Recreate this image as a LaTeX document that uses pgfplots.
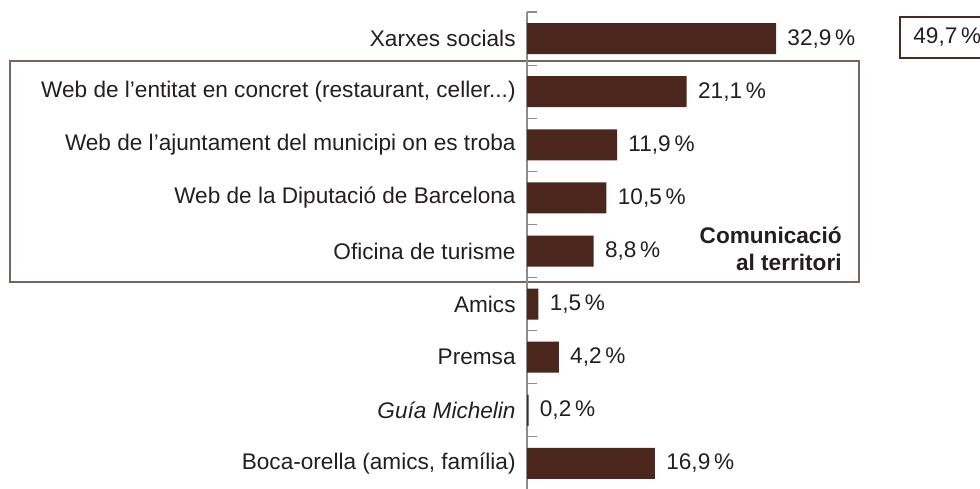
\documentclass[border=0pt]{standalone}
\usepackage{fontspec}
\setmainfont{Liberation Sans}
\usepackage{pgfplots}
\pgfplotsset{compat=1.18}
\definecolor{barc}{HTML}{4A261C}
\definecolor{boxc}{HTML}{7A635B}
\definecolor{box2}{HTML}{4A2A20}
\definecolor{axc}{HTML}{8C8C8C}
\definecolor{txt}{HTML}{231F20}
\def\tdots{...}
\begin{document}
\begin{tikzpicture}[font=\fontsize{11.3}{13.5}\selectfont, color=txt]
\useasboundingbox (0,0) rectangle (490pt,244pt);
\draw[boxc, line width=0.75pt] (5pt,103pt) rectangle (429.5pt,213.5pt);
\begin{axis}[
  at={(263.5pt,238pt)}, anchor=north west,
  scale only axis, width=226.5pt, height=239pt,
  xbar, bar width=15.5pt,
  xmin=0, xmax=59.84, ymin=-0.5, ymax=8.5, y dir=reverse,
  axis y line*=left, hide x axis,
  ytick={0,1,2,3,4,5,6,7,8},
  yticklabels={Xarxes socials, {Web de l’entitat en concret (restaurant, celler\tdots)}, Web de l’ajuntament del municipi on es troba, Web de la Diputació de Barcelona, Oficina de turisme, Amics, Premsa, {\itshape Guía Michelin}, {Boca-orella (amics, família)}},
  major tick length=0pt,
  minor ytick={-0.5,0.5,1.5,2.5,3.5,4.5,5.5,6.5,7.5,8.5}, minor tick length=5pt, tick align=inside,
  y axis line style={axc, line width=0.6pt}, minor tick style={axc, line width=0.6pt},
  yticklabel style={inner sep=0pt, xshift=-5.5pt, anchor=east, text=txt},
  point meta=x,
  /pgf/number format/assume math mode=true,
  nodes near coords={\pgfmathprintnumber[fixed, fixed zerofill, precision=1, use comma, assume math mode=true]{\pgfplotspointmeta}\,\%},
  every node near coord/.append style={anchor=west, inner sep=0pt, xshift=5.5pt, text=txt},
  clip=false,
]
\addplot[fill=barc, draw=none] coordinates {(32.9,0) (21.1,1) (11.9,2) (10.5,3) (8.8,4) (1.5,5) (4.2,6) (0.2,7) (16.9,8)};
\end{axis}
\node[align=right, anchor=east, inner sep=0pt, font=\fontsize{11.3}{13.5}\selectfont\bfseries] at (421pt,119.75pt) {Comunicació\\al territori};
\draw[box2, line width=0.6pt] (450pt,215pt) rectangle (500pt,235.5pt);
\node[anchor=west, inner sep=0pt] at (456.5pt,225.25pt) {49,7\,\%};
\end{tikzpicture}
\end{document}
